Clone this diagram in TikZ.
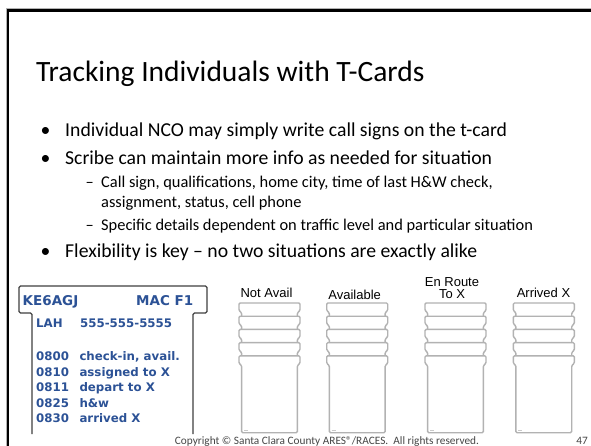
\documentclass[tikz,border=0pt]{standalone}
\usepackage{fontspec}
\setmainfont{Carlito}
\newfontfamily\arialf{Liberation Sans}
\newfontfamily\cardf{DejaVu Sans}
\definecolor{cardblue}{RGB}{44,82,150}
\definecolor{smallgray}{RGB}{178,178,178}
\definecolor{biggray}{RGB}{64,64,64}
\definecolor{footgray}{RGB}{70,70,70}
\tikzset{
  titletext/.style={anchor=base west, inner sep=0pt, font=\fontsize{29.5}{34}\selectfont},
  bodytext/.style={anchor=base west, inner sep=0pt, font=\fontsize{19.7}{23}\selectfont},
  subtext/.style={anchor=base west, inner sep=0pt, font=\fontsize{16.4}{19}\selectfont},
  lbl/.style={inner sep=0pt, align=center, font=\arialf\fontsize{13}{11.7}\selectfont},
  chead/.style={inner sep=0pt, text=cardblue, font=\cardf\bfseries\fontsize{13.5}{15}\selectfont},
  ctxt/.style={anchor=base west, inner sep=0pt, text=cardblue, font=\cardf\bfseries\fontsize{11.8}{13}\selectfont},
  foot/.style={inner sep=0pt, text=footgray, font=\fontsize{11.3}{13}\selectfont},
  smallcard/.style={draw=smallgray, fill=white, line width=1.4pt, rounded corners=1.2pt},
  bigcard/.style={draw=biggray, line width=1.3pt, rounded corners=1.5pt},
  frameline/.style={draw=black, line width=2.6pt},
}
\newcommand{\stackcard}[1]{%
  \foreach \k in {0,...,4}{%
    \pgfmathsetmacro{\yt}{303+13.2*\k}%
    \pgfmathsetmacro{\yh}{\yt+7.7}%
    \pgfmathsetmacro{\yi}{\yt+9.6}%
    \ifnum\k=4 \def\yb{432.7}\else\pgfmathsetmacro{\yb}{\yt+16}\fi
    \path[smallcard] (#1+2.6,\yb) -- (#1+2.6,\yi) -- (#1,\yh) -- (#1,\yt) -- (#1+61,\yt) -- (#1+61,\yh) -- (#1+58.4,\yi) -- (#1+58.4,\yb) -- cycle;
  }%
  \draw[smallgray!70, line width=0.8pt] (#1+5,430.2) -- (#1+9,430.2);
}
\begin{document}
\begin{tikzpicture}[x=1pt,y=-1pt]
\useasboundingbox (0,0) rectangle (591,446);
\clip (0,0) rectangle (591,446);
\fill[white] (0,0) rectangle (591,446);
% frame
\draw[gray!60, line width=1pt] (6.2,460) -- (6.2,8.7) -- (600,8.7);
\draw[frameline] (8,460) -- (8,10.5) -- (600,10.5);
% title
\node[titletext] (title) at (36,82) {Tracking Individuals with T-Cards};
% bullets
\node[bodytext] (b1d) at (40.5,136.5) {•};
\node[bodytext] (b1) at (65,136.5) {Individual NCO may simply write call signs on the t-card};
\node[bodytext] (b2d) at (40.5,164.5) {•};
\node[bodytext] (b2) at (65,164.5) {Scribe can maintain more info as needed for situation};
\node[subtext] (s1d) at (85.5,188) {–};
\node[subtext] (s1) at (101,188) {Call sign, qualifications, home city, time of last H\&W check,};
\node[subtext] (s1b) at (101,208) {assignment, status, cell phone};
\node[subtext] (s2d) at (85.5,231) {–};
\node[subtext] (s2) at (101,231) {Specific details dependent on traffic level and particular situation};
\node[bodytext] (b3d) at (40.5,258) {•};
\node[bodytext] (b3) at (65,258) {Flexibility is key – no two situations are exactly alike};
% big T-card
\draw[bigcard] (32,434) -- (32,313) -- (19,313) -- (19,286) -- (207,286) -- (207,313) -- (193,313) -- (193,434);
\node[chead, anchor=base west] (call) at (22.5,305) {KE6AGJ};
\node[chead, anchor=base east] (mac) at (193.5,305) {MAC F1};
\node[ctxt] (lah) at (36,327.6) {LAH};
\node[ctxt] (phone) at (80,327.6) {555-555-5555};
\node[ctxt] (t1) at (36,360.3) {0800};
\node[ctxt] (e1) at (79.3,360.3) {check-in, avail.};
\node[ctxt] (t2) at (36,376) {0810};
\node[ctxt] (e2) at (79.3,376) {assigned to X};
\node[ctxt] (t3) at (36,391) {0811};
\node[ctxt] (e3) at (79.3,391) {depart to X};
\node[ctxt] (t4) at (36,407) {0825};
\node[ctxt] (e4) at (79.3,407) {h\&w};
\node[ctxt] (t5) at (36,422.6) {0830};
\node[ctxt] (e5) at (79.3,422.6) {arrived X};
% small stacked cards
\stackcard{239}
\stackcard{326.7}
\stackcard{425}
\stackcard{513.3}
\node[lbl] (l1) at (266.5,292.7) {Not Avail};
\node[lbl] (l2) at (354.7,295) {Available};
\node[lbl] (l3) at (452,288.2) {En Route\\To X};
\node[lbl] (l4) at (543.5,292.7) {Arrived X};
% footer
\node[foot, anchor=base] (copy) at (327,444.5) {Copyright © Santa Clara County ARES®/RACES.\ \ All rights reserved.};
\node[foot, anchor=base east] (page) at (588,444.5) {47};
\end{tikzpicture}
\end{document}
